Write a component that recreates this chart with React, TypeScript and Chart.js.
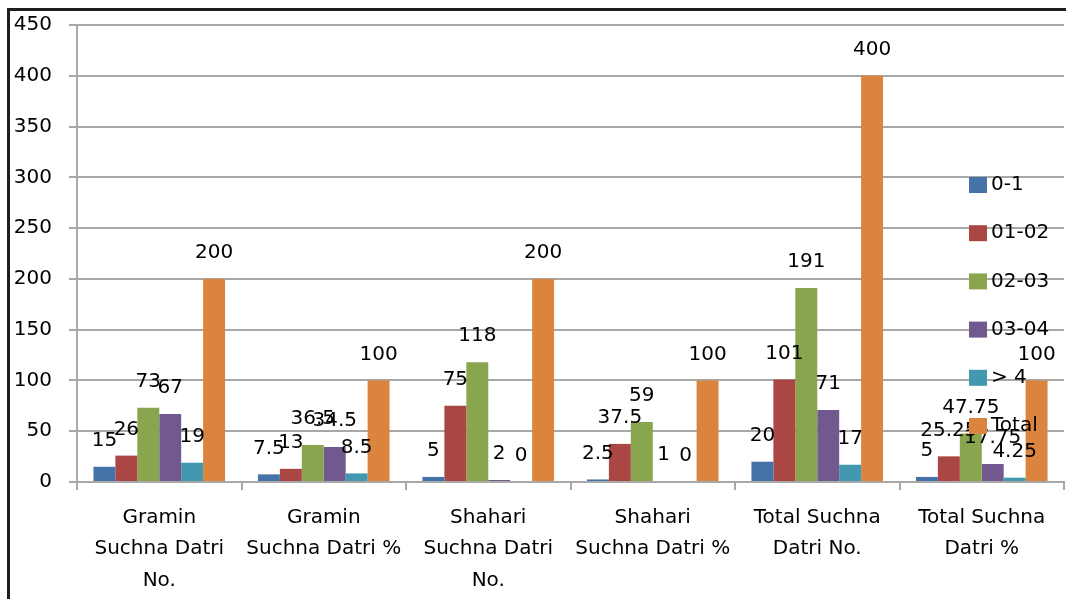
import React, { useEffect, useRef } from "react";
import { Chart, registerables } from "chart.js";

Chart.register(...registerables);

const categories: string[][] = [
  ["Gramin", "Suchna Datri", "No."],
  ["Gramin", "Suchna Datri %"],
  ["Shahari", "Suchna Datri", "No."],
  ["Shahari", "Suchna Datri %"],
  ["Total Suchna", "Datri No."],
  ["Total Suchna", "Datri %"],
];
const seriesNames = ["0-1", "01-02", "02-03", "03-04", "> 4", "Total"];
const s01 = [15, 7.5, 5, 2.5, 20, 5];
const s0102 = [26, 13, 75, 37.5, 101, 25.25];
const s0203 = [73, 36.5, 118, 59, 191, 47.75];
const s0304 = [67, 34.5, 2, 1, 71, 17.75];
const sGt4 = [19, 8.5, 0, 0, 17, 4.25];
const sTotal = [200, 100, 200, 100, 400, 100];
const yTicks = [0, 50, 100, 150, 200, 250, 300, 350, 400, 450];

const seriesValues = [s01, s0102, s0203, s0304, sGt4, sTotal];
const colors = ["#4572A7", "#AA4643", "#89A54E", "#71588F", "#4198AF", "#DB843D"];
const FONT = "'DejaVu Sans', Verdana, sans-serif";
const GRID = "#a8a8a8";

const labelPlugin = {
  id: "valueLabels",
  afterDatasetsDraw(chart: any) {
    const ctx = chart.ctx;
    ctx.save();
    ctx.font = `20px ${FONT}`;
    ctx.fillStyle = "#000";
    ctx.textAlign = "center";
    ctx.textBaseline = "middle";
    chart.data.datasets.forEach((ds: any, di: number) => {
      const meta = chart.getDatasetMeta(di);
      meta.data.forEach((el: any, i: number) => {
        ctx.fillText(String(ds.data[i]), el.x, el.y - 26);
      });
    });
    ctx.restore();
  },
};

const legendFramePlugin = {
  id: "legendFrame",
  beforeDraw(chart: any) {
    const ctx = chart.ctx;
    ctx.save();
    ctx.fillStyle = "#fff";
    ctx.fillRect(0, 0, chart.width, chart.height);
    ctx.restore();
  },
  afterDraw(chart: any) {
    const ctx = chart.ctx;
    const area = chart.chartArea;
    ctx.save();
    ctx.font = `20px ${FONT}`;
    ctx.textBaseline = "middle";
    ctx.textAlign = "left";
    const x0 = area.right - 95;
    const y0 = area.top + 160;
    chart.data.datasets.forEach((ds: any, i: number) => {
      const y = y0 + i * 48.2;
      ctx.fillStyle = ds.backgroundColor;
      ctx.fillRect(x0, y - 8, 18, 16);
      ctx.fillStyle = "#000";
      ctx.fillText(ds.label, x0 + 22, y);
    });
    // frame
    ctx.fillStyle = "#1e1e1e";
    ctx.fillRect(7, 8, chart.width - 7, 3);
    ctx.fillRect(7, 8, 3, chart.height - 8);
    ctx.restore();
  },
};

export default function App() {
  const ref = useRef<HTMLCanvasElement>(null);
  useEffect(() => {
    document.body.style.margin = "0";
    if (!ref.current) return;
    const chart = new Chart(ref.current, {
      type: "bar",
      data: {
        labels: categories,
        datasets: seriesNames.map((name, i) => ({
          label: name,
          data: seriesValues[i],
          backgroundColor: colors[i],
          borderWidth: 0,
          categoryPercentage: 0.8,
          barPercentage: 1.0,
        })),
      },
      options: {
        animation: false,
        responsive: false,
        layout: { padding: { left: 0, top: 25, right: 2, bottom: 0 } },
        plugins: {
          legend: { display: false },
          tooltip: { enabled: false },
        },
        scales: {
          x: {
            afterFit: (s: any) => {
              s.height = 117;
            },
            grid: {
              offset: true,
              drawOnChartArea: false,
              drawTicks: true,
              tickLength: 8,
              color: GRID,
              lineWidth: 2,
            },
            border: { display: true, color: GRID, width: 2 },
            ticks: {
              autoSkip: false,
              maxRotation: 0,
              padding: 12,
              color: "#000",
              font: { family: FONT, size: 20, lineHeight: 1.575 },
            },
          },
          y: {
            min: 0,
            max: 450,
            afterFit: (s: any) => {
              s.width = 77;
              s.paddingTop = 0;
              s.paddingBottom = 0;
            },
            afterBuildTicks: (s: any) => {
              s.ticks = yTicks.map((v) => ({ value: v }));
            },
            grid: { color: GRID, lineWidth: 2, tickLength: 8, drawTicks: true },
            border: { display: true, color: GRID, width: 2 },
            ticks: {
              padding: 17,
              color: "#000",
              font: { family: FONT, size: 20 },
            },
          },
        },
      },
      plugins: [labelPlugin, legendFramePlugin],
    });
    return () => chart.destroy();
  }, []);
  return (
    <div style={{ width: 1066, height: 599 }}>
      <canvas ref={ref} width={1066} height={599} />
    </div>
  );
}
